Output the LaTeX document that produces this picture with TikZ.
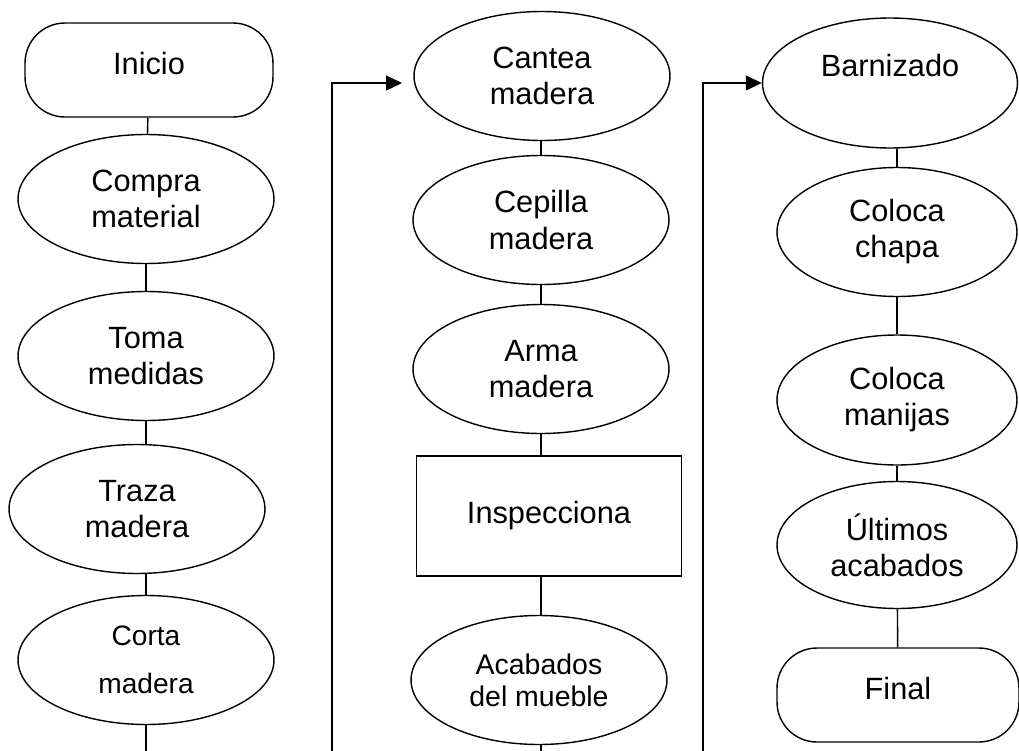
\documentclass[tikz,border=0pt]{standalone}
\usepackage{fontspec}
\setmainfont{Liberation Sans}
\usetikzlibrary{positioning,shapes.geometric,arrows.meta}

\begin{document}
\begin{tikzpicture}[x=0.02cm, y=-0.02cm, >={Triangle[length=0.32cm,width=0.3cm]},
    proc/.style={draw=black, ellipse, line width=0.8pt, inner sep=0pt, align=center,
      minimum width=5.12cm, minimum height=2.58cm, font={\fontsize{17.5}{20.5}\selectfont}},
    term/.style={draw=black, rectangle, rounded corners=0.8cm, line width=0.8pt, inner sep=0pt,
      align=center, text depth=0.25cm, minimum width=4.96cm, minimum height=1.88cm,
      font={\fontsize{17.5}{20.5}\selectfont}},
    checkbox/.style={draw=black, rectangle, line width=0.8pt, inner sep=0pt, align=center,
      minimum width=5.3cm, minimum height=2.4cm, font={\fontsize{17.5}{20.5}\selectfont}},
    link/.style={draw=black, line width=0.8pt}]
      \useasboundingbox (0,0) rectangle (1019,751);
      \fill[white] (0,0) rectangle (1019,751);

      % Nodes
      \node [term] (inicio) at (149,70) {Inicio};
      \node [proc] (compra) at (146,199) {Compra\\material};
      \node [proc] (toma) at (146,356) {Toma\\medidas};
      \node [proc] (traza) at (137,509) {Traza\\madera};
      \node [proc, font={\fontsize{16}{27.5}\selectfont}] (corta) at (146,660) {Corta\\madera};

      \node [proc] (cantea) at (542,76) {Cantea\\madera};
      \node [proc] (cepilla) at (541,220) {Cepilla\\madera};
      \node [proc] (arma) at (541,369) {Arma\\madera};
      \node [checkbox] (inspec) at (549,516) {Inspecciona};
      \node [proc, font={\fontsize{16.2}{18.2}\selectfont}] (acabmueble) at (539,680) {Acabados\\del mueble};

      \node [proc, minimum width=5.1cm, minimum height=2.6cm] (barniz) at (890,83) {Barnizado\\\mbox{}};
      \node [proc, minimum width=4.8cm] (chapa) at (897,232) {Coloca\\chapa};
      \node [proc, minimum width=4.8cm, minimum height=2.6cm] (manijas) at (897,400) {Coloca\\manijas};
      \node [proc, minimum width=4.8cm, minimum height=2.54cm] (ultimos) at (897,545) {Últimos\\acabados};
      \node [term, minimum width=4.84cm, minimum height=1.88cm] (final) at (898,695) {Final};

      \coordinate (c1end) at (146,751);
      \coordinate (c2end) at (541,751);
      \coordinate (feed1) at (332,751);
      \coordinate (feed1tip) at (402,83);
      \coordinate (feed2) at (703,751);

      % Arrows
      \draw [link] (inicio) -- (compra);
      \draw [link] (compra) -- (toma);
      \draw [link] (toma.south) -- (toma.south |- traza.north);
      \draw [link] (corta.north |- traza.south) -- (corta.north);
      \draw [link] (corta) -- (c1end);

      \draw [link] (cantea.south -| cepilla.north) -- (cepilla.north);
      \draw [link] (cepilla) -- (arma);
      \draw [link] (arma.south) -- (arma.south |- inspec.north);
      \draw [link] (arma.south |- inspec.south) -- (arma.south |- acabmueble.north);
      \draw [link] (arma.south |- acabmueble.south) -- (c2end);

      \draw [link] (barniz.south -| chapa.north) -- (chapa.north);
      \draw [link] (chapa) -- (manijas);
      \draw [link] (manijas) -- (ultimos);
      \draw [link] (ultimos) -- (final);

      \draw [link, ->] (feed1) |- (feed1tip);
      \draw [link, ->] (feed2) |- (barniz.west);
    \end{tikzpicture}
\end{document}
